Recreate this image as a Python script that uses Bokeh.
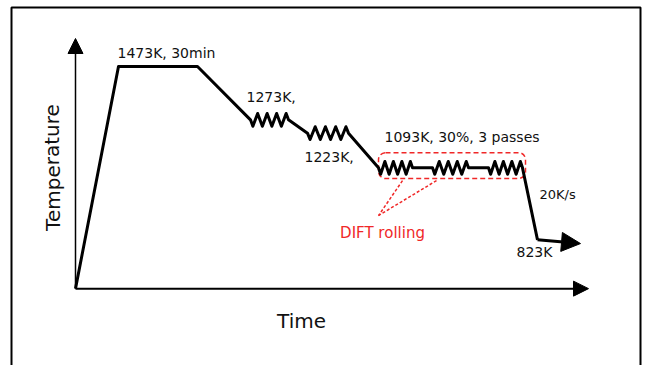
from bokeh.plotting import figure
from bokeh.models import Range1d, Arrow, NormalHead, BoxAnnotation
from bokeh.core.properties import value
from bokeh.embed import file_html
from bokeh.resources import INLINE

# ---------------- data (schematic: time in arbitrary units, temperature in K) -------------
soak_time = [0, 43, 122]            # start of heating, reach soak, end of soak
soak_temp = [640, 1473, 1473]
pass_start = [175, 232, 303, 357, 413]   # rolling passes
pass_end = [213, 273, 337, 393, 447]
pass_temp = [1273, 1223, 1093, 1093, 1093]
quench_time = [462, 505]            # end of 20K/s cooling, end of arrow
quench_temp = [823, 809]
axis_origin_temp = 640
axis_time_end = 513
axis_temp_end = 1578

stage_labels = ["1473K, 30min", "1273K,", "1223K,", "1093K, 30%, 3 passes", "823K"]
rate_label = "20K/s"
dift_label = "DIFT rolling"
x_title = "Time"
y_title = "Temperature"

# ---------------- layout ----------------
label_x = [42, 171, 229, 309, 441]
label_y = [1522, 1357, 1132, 1210, 776]
rate_xy = (464, 993)
dift_xy = (307, 847)
dift_box = dict(left=303, right=450, top=1150, bottom=1053)
dift_links = [([327, 303], [1045, 914]), ([361, 303], [1045, 914])]
peaks_per_pass = 4
zig_amp = 24

FONT = "DejaVu Sans"
INK = "#111111"
RED = "#f02828"

p = figure(width=646, height=365, output_backend="svg", toolbar_location=None,
           x_range=Range1d(-75, 571), y_range=Range1d(351.75, 1720.5),
           x_axis_type=None, y_axis_type=None, min_border=0)
p.grid.visible = False
p.outline_line_color = None
p.background_fill_color = "white"
p.border_fill_color = "white"

# outer frame (bottom edge is cut off in the reference)
p.line([-64, -64, 565, 565], [300, 1694.25, 1694.25, 300], line_color="black", line_width=2)

# axes with arrow heads
p.add_layout(Arrow(x_start=0, y_start=axis_origin_temp, x_end=0, y_end=axis_temp_end,
                   line_width=1.5, line_color="black",
                   end=NormalHead(size=15, fill_color="black", line_color="black", line_width=1)))
p.add_layout(Arrow(x_start=0, y_start=axis_origin_temp, x_end=axis_time_end, y_end=axis_origin_temp,
                   line_width=2, line_color="black",
                   end=NormalHead(size=15, fill_color="black", line_color="black", line_width=1)))

# DIFT rolling highlight
box = BoxAnnotation(fill_alpha=0, fill_color=None, line_color=RED, line_alpha=1, line_dash="5 3",
                    line_width=1.5, border_radius=7, level="underlay", **dift_box)
p.add_layout(box)
for lx, ly in dift_links:
    p.line(lx, ly, line_color=RED, line_dash="3 2", line_width=1.5)

# temperature profile
xs, ys = list(soak_time), list(soak_temp)
for t0, t1, c in zip(pass_start, pass_end, pass_temp):
    w = (t1 - t0) / (2 * peaks_per_pass)
    xs.append(t0); ys.append(c)
    for i in range(2 * peaks_per_pass):
        xs.append(t0 + (i + 0.5) * w)
        ys.append(c - zig_amp if i % 2 == 0 else c + zig_amp)
    xs.append(t1); ys.append(c)
xs.append(quench_time[0]); ys.append(quench_temp[0])
p.line(xs, ys, line_color="black", line_width=3, line_join="round")

p.add_layout(Arrow(x_start=quench_time[0], y_start=quench_temp[0],
                   x_end=quench_time[1], y_end=quench_temp[1],
                   line_width=3, line_color="black",
                   end=NormalHead(size=19, fill_color="black", line_color="black", line_width=1)))

# texts
p.text(x=label_x, y=label_y, text=stage_labels, text_font=value(FONT),
       text_font_size="14px", text_color=INK, text_align="left", text_baseline="middle")
p.text(x=[rate_xy[0]], y=[rate_xy[1]], text=[rate_label], text_font=value(FONT),
       text_font_size="13px", text_color=INK, text_align="left", text_baseline="middle")
p.text(x=[dift_xy[0]], y=[dift_xy[1]], text=[dift_label], text_font=value(FONT),
       text_font_size="15px", text_color=RED, text_align="center", text_baseline="middle")
p.text(x=[226], y=[520], text=[x_title], text_font=value(FONT),
       text_font_size="20px", text_color=INK, text_align="center", text_baseline="middle")
p.text(x=[-23], y=[1094], text=[y_title], text_font=value(FONT), angle=1.5708,
       text_font_size="20px", text_color=INK, text_align="center", text_baseline="middle")

open("out.html", "w").write(file_html(p, INLINE))
